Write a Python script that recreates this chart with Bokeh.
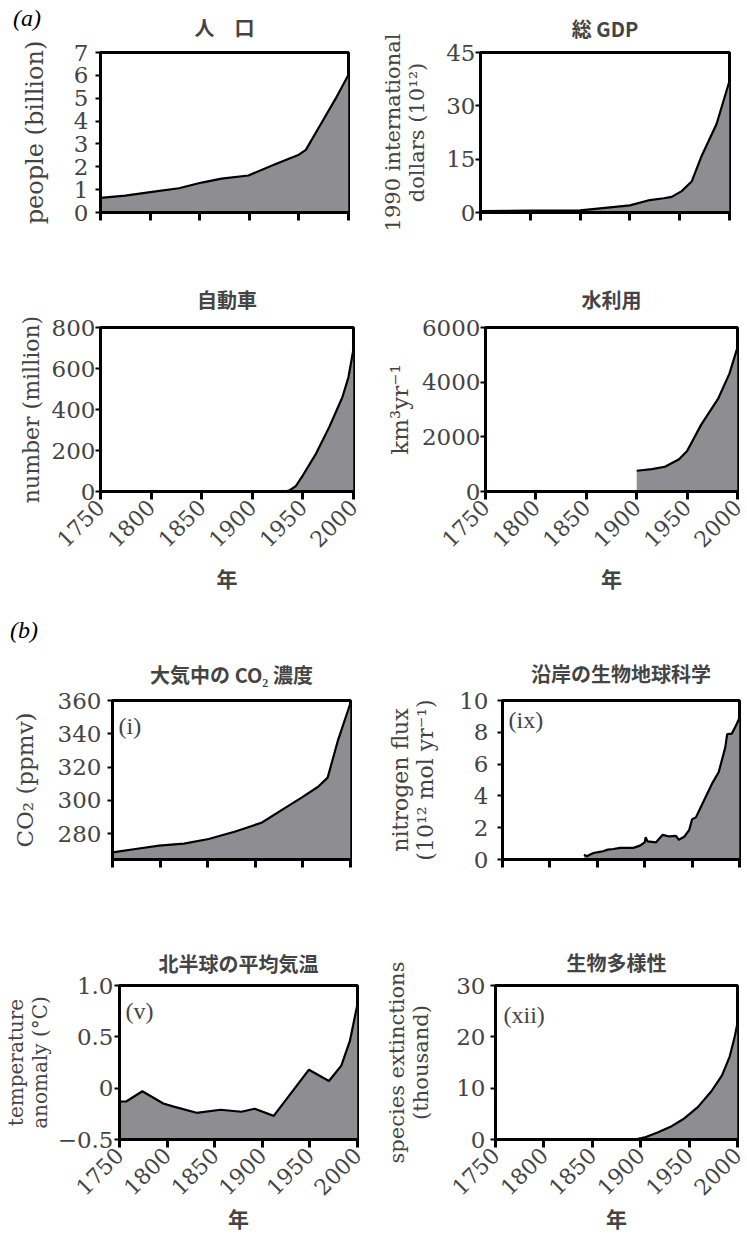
from bokeh.plotting import figure
from bokeh.models import Range1d, FixedTicker, Label, GridBox, Div, CustomLabelingPolicy
from bokeh.layouts import column, row
from bokeh.embed import file_html
from bokeh.resources import INLINE
import math

year_ticks = [1750, 1800, 1850, 1900, 1950, 2000]

pop_year = [1750, 1775, 1802, 1829, 1852, 1872, 1899, 1926, 1950, 1957, 1972, 1987, 2000]
pop_val = [0.64, 0.74, 0.90, 1.06, 1.31, 1.48, 1.62, 2.11, 2.53, 2.74, 3.86, 4.98, 6.03]

gdp_year = [1750, 1800, 1850, 1900, 1920, 1934, 1942, 1952, 1962, 1972, 1987, 2000]
gdp_val = [0.4, 0.5, 0.6, 2.0, 3.5, 4.0, 4.4, 6.0, 8.7, 15.9, 24.9, 37.0]

car_year = [1750, 1900, 1932, 1937, 1943, 1950, 1963, 1976, 1989, 1995, 2000]
car_val = [0, 0, 0, 6, 26, 79, 185, 314, 460, 557, 695]

water_year = [1900, 1915, 1928, 1942, 1950, 1964, 1981, 1992, 2000]
water_val = [759, 820, 904, 1180, 1482, 2446, 3410, 4313, 5277]

co2_year = [1750, 1774, 1799, 1825, 1851, 1879, 1907, 1928, 1949, 1966, 1976, 1987, 2000]
co2_val = [268.8, 270.8, 272.8, 274.0, 276.8, 281.3, 286.7, 294.3, 301.8, 308.2, 313.7, 336.4, 358.5]

nit_year = [1836, 1839, 1842, 1846, 1851, 1856, 1861, 1867, 1874, 1881, 1888, 1895, 1900, 1901,
            1903, 1912, 1919, 1926, 1933, 1936, 1942, 1947, 1950, 1954, 1961, 1971, 1978, 1985,
            1987, 1992, 1996, 2000]
nit_val = [0.30, 0.20, 0.30, 0.41, 0.46, 0.52, 0.62, 0.66, 0.73, 0.73, 0.73, 0.87, 1.08, 1.41,
           1.14, 1.08, 1.55, 1.45, 1.49, 1.24, 1.45, 1.87, 2.53, 2.65, 3.52, 4.77, 5.49, 7.05,
           7.88, 7.92, 8.39, 8.91]

temp_year = [1750, 1757, 1774, 1796, 1807, 1831, 1856, 1878, 1892, 1912, 1949, 1970, 1983, 1992, 2000]
temp_val = [-0.13, -0.13, -0.03, -0.15, -0.18, -0.24, -0.21, -0.23, -0.20, -0.27, 0.18, 0.07, 0.22, 0.46, 0.82]

sp_year = [1750, 1894, 1904, 1918, 1932, 1945, 1959, 1973, 1984, 1992, 1997, 2000]
sp_val = [0, 0, 0.4, 1.4, 2.6, 4.1, 6.3, 9.4, 12.5, 16.2, 19.9, 22.7]

FILL = "#8e8e92"
TICK_FONT = "DejaVu Serif"
LABEL_FONT = "DejaVu Serif"
TAG_FONT = "Liberation Serif"
CJK = "Noto Sans CJK JP"


def make(title, ylab, yrange, yticks, xs, ys, w, h, borders, bottom_labels,
         title_standoff=20, ylab_standoff=6, ylab_size="24px", tick_standoff=3,
         xlab_standoff=8, tag=None, tag_off=(8, -12), yoverrides=None):
    left, right, top, bottom = borders
    p = figure(width=w, height=h, output_backend="svg", toolbar_location=None,
               x_range=Range1d(1750, 2000), y_range=Range1d(*yrange),
               min_border_left=left, min_border_right=right,
               min_border_top=top, min_border_bottom=bottom)
    p.grid.visible = False
    p.background_fill_color = "white"
    p.border_fill_color = "white"
    p.outline_line_color = "black"
    p.outline_line_width = 3
    p.title.text = title
    p.title.text_font = CJK
    p.title.text_font_size = "20px"
    p.title.text_font_style = "bold"
    p.title.align = "center"
    p.title.standoff = title_standoff

    p.varea(x=xs, y1=[yrange[0]] * len(xs), y2=ys, fill_color=FILL)
    p.line(x=xs, y=ys, line_color="black", line_width=2.2)

    xa = p.xaxis[0]
    xa.ticker = FixedTicker(ticks=year_ticks)
    xa.minor_tick_line_color = None
    xa.axis_line_width = 3
    xa.major_tick_line_width = 3
    xa.major_tick_out = 8
    xa.major_tick_in = 0
    if bottom_labels:
        xa.major_label_orientation = math.pi / 4
        xa.major_label_text_font = TICK_FONT
        xa.major_label_text_font_size = "22px"
        xa.major_label_standoff = 4
        xa.axis_label = "年"
        xa.axis_label_text_font = CJK
        xa.axis_label_text_font_size = "21px"
        xa.axis_label_text_font_style = "bold"
        xa.axis_label_standoff = xlab_standoff
    else:
        # tick marks only, no year labels (as in the reference's upper panels)
        xa.major_label_text_font_size = "0px"
        xa.major_label_policy = CustomLabelingPolicy(code="return []")

    ya = p.yaxis[0]
    ya.ticker = FixedTicker(ticks=yticks)
    if yoverrides:
        ya.major_label_overrides = yoverrides
    ya.minor_tick_line_color = None
    ya.axis_line_width = 3
    ya.major_tick_line_width = 2
    ya.major_tick_out = 5
    ya.major_tick_in = 0
    ya.major_label_text_font = TICK_FONT
    ya.major_label_text_font_size = "23px"
    ya.major_label_standoff = tick_standoff
    ya.axis_label = ylab
    ya.axis_label_text_font = LABEL_FONT
    ya.axis_label_text_font_size = ylab_size
    ya.axis_label_text_font_style = "normal"
    ya.axis_label_text_line_height = 1.0
    ya.axis_label_standoff = ylab_standoff

    if tag:
        p.add_layout(Label(x=1750, y=yrange[1], x_offset=tag_off[0], y_offset=tag_off[1],
                           text=tag, text_font=TAG_FONT, text_font_size="24px",
                           text_baseline="top", text_align="left"))
    return p


LW, RW = 373, 374

p1 = make("人　口", "people (billion)", (0, 7), list(range(8)), pop_year, pop_val,
          LW, 250, (100, 25, 47, 37), False, title_standoff=21, ylab_standoff=22,
          ylab_size="24px", tick_standoff=7)
p2 = make("総 GDP", "1990 international\ndollars (10¹²)", (0, 45), [0, 15, 30, 45],
          gdp_year, gdp_val, RW, 250, (107, 18, 43, 38), False, title_standoff=19,
          ylab_standoff=14, ylab_size="21px", tick_standoff=0)

p3 = make("自動車", "number (million)", (0, 800), [0, 200, 400, 600, 800], car_year, car_val,
          LW, 370, (100, 20, 77, 129), True, title_standoff=28, ylab_standoff=5,
          ylab_size="22px", tick_standoff=0, xlab_standoff=6)
p4 = make("水利用", "km³yr⁻¹", (0, 6000), [0, 2000, 4000, 6000], water_year, water_val,
          RW, 370, (112, 10, 77, 127), True, title_standoff=28, ylab_standoff=6,
          ylab_size="23px", tick_standoff=0, xlab_standoff=6)

p5 = make("大気中の CO₂ 濃度", "CO₂ (ppmv)", (264.5, 360), [280, 300, 320, 340, 360],
          co2_year, co2_val, LW, 310, (112, 23, 78, 70), False, title_standoff=24,
          ylab_standoff=17, ylab_size="23px", tick_standoff=6, tag="(i)", tag_off=(6, -12))
p6 = make("沿岸の生物地球科学", "nitrogen flux\n(10¹² mol yr⁻¹)", (0, 10), [0, 2, 4, 6, 8, 10],
          nit_year, nit_val, RW, 310, (129, 8, 80, 71), False, title_standoff=26,
          ylab_standoff=18, ylab_size="22px", tick_standoff=9, tag="(ix)", tag_off=(6, -6))

p7 = make("北半球の平均気温", "temperature\nanomaly (°C)", (-0.5, 1.0), [-0.5, 0, 0.5, 1.0],
          temp_year, temp_val, LW, 306, (118, 16, 53, 88), True, title_standoff=16,
          ylab_standoff=3, ylab_size="20px", tick_standoff=1, xlab_standoff=-2,
          tag="(v)", tag_off=(6, -12),
          yoverrides={-0.5: "−0.5", 0: "0", 0.5: "0.5", 1.0: "1.0"})
p8 = make("生物多様性", "species extinctions\n(thousand)", (0, 30), [0, 10, 20, 30],
          sp_year, sp_val, RW, 306, (122, 10, 55, 89), True, title_standoff=18,
          ylab_standoff=20, ylab_size="21px", tick_standoff=5, xlab_standoff=-2,
          tag="(xii)", tag_off=(8, -16))

TAG_HTML = ('<span style="font-family:\'Liberation Serif\',serif;font-style:italic;'
            'font-size:24px;line-height:24px;color:black">{}</span>')
div_a = Div(text=TAG_HTML.format("(a)"), width=40, height=28, margin=(6, 0, 0, 13),
            align="start")
div_b = Div(text=TAG_HTML.format("(b)"), width=40, height=28, margin=(618, 0, 0, 10),
            align="start")

panels = column(row(p1, p2), row(p3, p4), row(p5, p6), row(p7, p8))
layout = GridBox(children=[(panels, 0, 0), (div_a, 0, 0), (div_b, 0, 0)], spacing=0)

open("out.html", "w").write(file_html(layout, INLINE))
